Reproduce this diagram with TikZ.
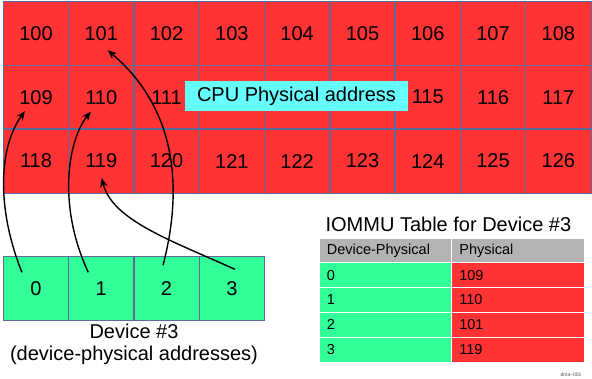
\documentclass[tikz,border=0pt]{standalone}
\usepackage{fontspec}
\setmainfont{Liberation Sans}
\usetikzlibrary{arrows.meta,calc}
\definecolor{cellred}{RGB}{255,51,51}
\definecolor{cellgreen}{RGB}{51,255,153}
\definecolor{cpucyan}{RGB}{102,255,255}
\definecolor{gridline}{RGB}{95,105,155}
\definecolor{headgray}{RGB}{179,179,179}
\tikzset{
  cell/.style={fill=cellred, minimum width=65.3pt, minimum height=63.9pt, inner sep=0pt, font=\fontsize{20}{24}\selectfont},
  devcell/.style={fill=cellgreen, minimum width=65.3pt, minimum height=63.3pt, inner sep=0pt, font=\fontsize{20}{24}\selectfont},
  cellborder/.style={draw=gridline, line width=1pt},
  cpulabel/.style={fill=cpucyan, minimum width=222.4pt, minimum height=30.3pt, inner sep=0pt, font=\fontsize{20}{24}\selectfont},
  conn/.style={draw=black, line width=1.4pt, -{Stealth[length=9pt,width=7.5pt]}},
  tcell/.style={draw=white, line width=1pt, minimum height=24.85pt, inner xsep=7.7pt, inner ysep=0pt, text width=117pt, align=left, font=\fontsize{14.5}{17}\selectfont},
}
\begin{document}
\begin{tikzpicture}[x=1pt,y=-1pt]
\useasboundingbox (0,0) rectangle (592,378);
\fill[white] (0,0) rectangle (592,378);
% CPU physical grid
\foreach \r in {0,1,2}{
  \foreach \c in {0,...,8}{
    \pgfmathtruncatemacro\n{100+9*\r+\c}
    \pgfmathtruncatemacro\hid{(\n>111)&&(\n<115)}
    \ifnum\hid=1
      \node[cell] (c\n) at ({3.3+65.3*(\c+0.5)},{1.3+63.9*(\r+0.5)}) {};
    \else
      \node[cell] (c\n) at ({3.3+65.3*(\c+0.5)},{1.3+63.9*(\r+0.5)}) {\n};
    \fi
  }
}
\foreach \n in {100,...,126}{
  \draw[cellborder] (c\n.north west) rectangle (c\n.south east);
}
\node[cpulabel] (cpu) at (296.5,96.2) {CPU Physical address};
% device cells
\foreach \i in {0,...,3}{
  \node[devcell] (d\i) at ({3.3+65.3*(\i+0.5)},288.3) {\i};
}
\foreach \i in {0,...,3}{
  \draw[cellborder] (d\i.north west) rectangle (d\i.south east);
}
\node[align=center, font=\fontsize{20}{22}\selectfont, inner sep=0pt] (devlabel) at (134,344) {Device \#3\\(device-physical addresses)};
% connectors
\draw[conn] ($(d0)+(-14,-16)$) .. controls (-5,205) and (0,145) .. ($(c109)+(-11,14)$);
\draw[conn] ($(d1)+(-13,-16)$) .. controls (57,205) and (68,140) .. ($(c110)+(-10.5,14.5)$);
\draw[conn] ($(d2)+(-3.5,-23)$) .. controls (176,215) and (190,120) .. ($(c101)+(6.5,17)$);
\draw[conn] ($(d3)+(3,-19)$) .. controls (170,240) and (112,220) .. ($(c119)+(0.5,17)$);
% IOMMU table
\node[font=\fontsize{20}{24}\selectfont, inner sep=0pt] (title) at (448.4,224) {IOMMU Table for Device \#3};
\node[tcell, fill=headgray] (h1) at (385.35,251) {Device-Physical};
\node[tcell, fill=headgray] (h2) at (517.85,251) {Physical};
\foreach \i/\p in {0/109,1/110,2/101,3/119}{
  \node[tcell, fill=cellgreen] (l\i) at (385.35,{262.7+24.85*(\i+0.5)}) {\i};
  \node[tcell, fill=cellred] (r\i) at (517.85,{262.7+24.85*(\i+0.5)}) {\p};
}
\node[font=\fontsize{5}{6}\selectfont, text=black!70, inner sep=0pt] (tag) at (571,375) {dma--001};
\end{tikzpicture}
\end{document}
